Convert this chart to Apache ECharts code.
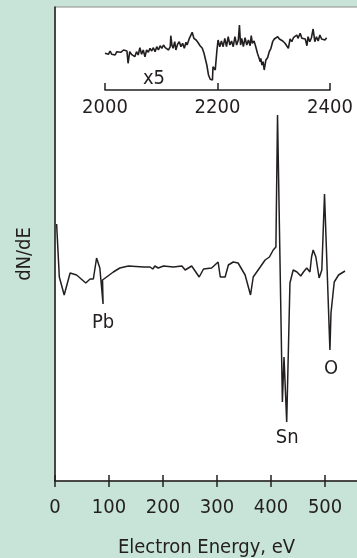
<!DOCTYPE html>
<html lang="en">

<head>
    <meta charset="UTF-8">
    <title>Auger spectrum</title>
    <style>
        html,
        body {
            margin: 0;
            padding: 0;
            background: #c8e4d9;
        }

        #main {
            width: 357px;
            height: 558px;
        }
    </style>
    <script src="https://cdn.jsdelivr.net/npm/echarts@6/dist/echarts.min.js"></script>
</head>

<body>
    <div id="main"></div>
    <script>
        // main spectrum, 0 - 560 eV (arbitrary dN/dE units)
        const mainEnergy = [3, 8, 17, 28, 40, 57, 65, 71, 77, 83, 89, 88, 108, 120, 136, 164, 176, 181, 185, 191,
            201, 219, 235, 241, 253, 267, 275, 290, 302, 306, 315, 321, 330, 339, 352, 362, 367, 380, 389, 397,
            404, 409, 412, 421, 424, 429, 435, 441, 448, 455, 460, 466, 472, 475, 478, 483, 489, 494, 499, 509,
            511, 517, 525, 537];
        const mainSignal = [257, 204, 186, 208, 206, 198, 202, 202, 223, 213, 177, 201, 209, 213, 215, 214, 214, 212, 215, 213,
            215, 214, 215, 211, 215, 204, 212, 213, 219, 204, 204, 216, 219, 218, 206, 186, 204, 214, 221, 224,
            231, 234, 366, 79, 124, 59, 198, 211, 209, 205, 209, 213, 209, 224, 231, 224, 203, 211, 287, 131,
            168, 199, 206, 210];

        // inset, 2000 - 2400 eV, shown x5
        const insetEnergy = [2000, 2003, 2006, 2009, 2012, 2015, 2018, 2021, 2024, 2028, 2033, 2036, 2039, 2041, 2044, 2047,
            2050, 2053, 2056, 2059, 2062, 2065, 2068, 2071, 2074, 2077, 2080, 2083, 2086, 2089, 2092, 2095, 2098, 2101,
            2104, 2107, 2110, 2113, 2116, 2117, 2119, 2121, 2124, 2126, 2129, 2132, 2135, 2138, 2141, 2144, 2146, 2150,
            2152, 2155, 2158, 2162, 2165, 2169, 2173, 2176, 2181, 2184, 2187, 2191, 2192, 2196, 2199, 2201, 2204, 2207,
            2210, 2213, 2216, 2219, 2222, 2225, 2228, 2231, 2234, 2237, 2239, 2241, 2243, 2246, 2249, 2252, 2255, 2258,
            2260, 2262, 2265, 2268, 2271, 2274, 2276, 2277, 2279, 2281, 2283, 2286, 2289, 2292, 2295, 2298, 2301, 2304,
            2307, 2310, 2313, 2316, 2320, 2323, 2326, 2329, 2332, 2335, 2338, 2341, 2343, 2347, 2350, 2353, 2356, 2359,
            2361, 2364, 2367, 2370, 2373, 2376, 2379, 2382, 2385, 2388, 2391, 2394];
        const insetSignal = [36.7, 38.3, 35.7, 39, 35.7, 37.7, 35, 38.3, 36.7, 37.7, 40, 41.7, 39, 26.7, 38.3, 35.7,
            36.7, 33.3, 38.3, 35, 42.3, 35.7, 40, 33.3, 40, 37.7, 41.7, 39, 42.3, 38.3, 43.3, 40, 44.3, 41.7,
            45, 42.3, 43.3, 40, 43.3, 54.3, 45, 41.7, 48.3, 40, 45.7, 48.3, 43.3, 46.7, 41.7, 47.7, 45, 51.7,
            50, 57.7, 51.7, 50, 47.7, 44.3, 41.7, 36.7, 25, 15, 10.7, 10, 23.3, 20, 40, 50, 43.3, 49,
            43.3, 51.7, 43.3, 53.3, 45, 49, 43.3, 53.3, 45, 50, 65, 45, 51.7, 43.3, 52.3, 45, 50, 44.3,
            54.3, 46.7, 49, 43.3, 36.7, 31.7, 28.3, 31.7, 25, 28.3, 20, 30, 32.3, 38.3, 41.7, 48.3, 51, 50,
            53.3, 51, 51.7, 49, 46.7, 45, 41.7, 51, 48.3, 52.3, 51, 55, 51.7, 56.7, 51.7, 53.3, 51, 44.3,
            53.3, 48.3, 52.3, 61, 48.3, 53.3, 49, 55, 51, 52.3, 50, 52.3];

        const mainTicks = [0, 100, 200, 300, 400, 500];
        const insetTicks = [2000, 2200, 2400];

        const ink = '#231f20';
        const font = '"Liberation Sans Narrow", "DejaVu Sans Condensed", Roboto, sans-serif';
        const fontSize = 20;

        const chart = echarts.init(document.getElementById('main'));

        const zip = (xs, ys) => xs.map((x, i) => [x, ys[i]]);

        function textMark(name, coord) {
            return {
                name: name,
                coord: coord,
                symbolSize: 0,
                label: {
                    show: true,
                    position: 'inside',
                    formatter: '{b}',
                    color: ink,
                    fontFamily: font,
                    fontSize: fontSize
                }
            };
        }

        const option = {
            backgroundColor: '#c8e4d9',
            animation: false,
            textStyle: { fontFamily: font, color: ink },
            grid: [
                {
                    left: 55, top: 7, right: -1, bottom: 77, outerBoundsMode: 'none',
                    show: true, backgroundColor: '#fff', borderColor: '#8a8a8a', borderWidth: 1
                },
                { left: 105, top: 20, width: 225, height: 70, outerBoundsMode: 'none' }
            ],
            graphic: [
                {
                    type: 'text', x: 25, y: 254, rotation: Math.PI / 2,
                    style: {
                        text: 'dN/dE', fill: ink, font: fontSize + 'px ' + font,
                        align: 'center', verticalAlign: 'middle'
                    }
                }
            ],
            xAxis: [
                {
                    type: 'value', gridIndex: 0, min: 0, max: 561, position: 'bottom',
                    name: 'Electron Energy, eV', nameLocation: 'middle', nameGap: 57,
                    nameTextStyle: { fontSize: fontSize, color: ink, fontFamily: font },
                    axisLine: { lineStyle: { color: ink, width: 1.5 } },
                    axisTick: { customValues: mainTicks, inside: true, length: 6, lineStyle: { color: ink, width: 1.5 } },
                    axisLabel: { customValues: mainTicks, margin: 17, fontSize: fontSize, color: ink, fontFamily: font },
                    splitLine: { show: false }
                },
                {
                    // ticks poking below the axis line
                    type: 'value', gridIndex: 0, min: 0, max: 561, position: 'bottom',
                    axisLine: { show: false },
                    axisTick: { customValues: mainTicks, inside: false, length: 6, lineStyle: { color: ink, width: 1.5 } },
                    axisLabel: { show: false },
                    splitLine: { show: false }
                },
                {
                    type: 'value', gridIndex: 1, min: 2000, max: 2400, position: 'bottom',
                    axisLine: { lineStyle: { color: ink, width: 1.5 } },
                    axisTick: { customValues: insetTicks, inside: true, length: 7, lineStyle: { color: ink, width: 1.5 } },
                    axisLabel: {
                        customValues: insetTicks, margin: 8, fontSize: fontSize, color: ink, fontFamily: font,
                        formatter: (v) => String(v)
                    },
                    splitLine: { show: false }
                }
            ],
            yAxis: [
                {
                    type: 'value', gridIndex: 0, min: 0, max: 474,
                    axisLine: { show: true, lineStyle: { color: ink, width: 1.5 } },
                    axisTick: { show: false },
                    axisLabel: { show: false },
                    splitLine: { show: false }
                },
                {
                    type: 'value', gridIndex: 1, min: 0, max: 70, show: false
                }
            ],
            series: [
                {
                    type: 'line',
                    xAxisIndex: 0, yAxisIndex: 0,
                    data: zip(mainEnergy, mainSignal),
                    showSymbol: false,
                    lineStyle: { color: ink, width: 1.5 },
                    markPoint: {
                        symbol: 'circle',
                        data: [
                            textMark('Pb', [89, 158]),
                            textMark('Sn', [430, 43]),
                            textMark('O', [511, 112])
                        ]
                    }
                },
                {
                    type: 'line',
                    xAxisIndex: 2, yAxisIndex: 1,
                    data: zip(insetEnergy, insetSignal),
                    showSymbol: false,
                    lineStyle: { color: ink, width: 1.6 },
                    markPoint: {
                        symbol: 'circle',
                        data: [textMark('x5', [2087, 11])]
                    }
                }
            ]
        };

        chart.setOption(option);
    </script>
</body>

</html>
